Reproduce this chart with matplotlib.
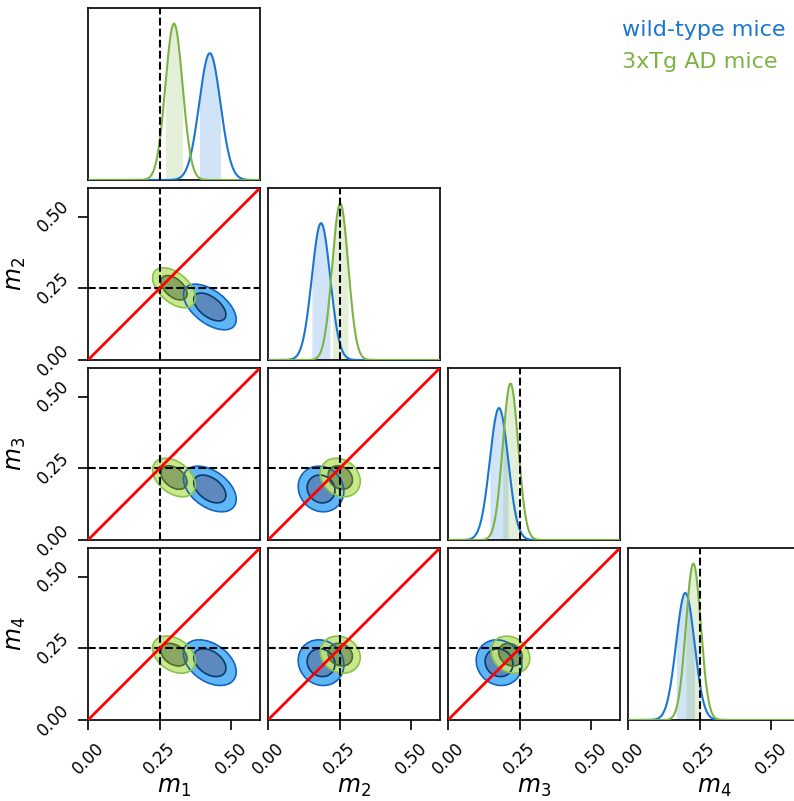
import numpy as np
import matplotlib
matplotlib.use("Agg")
import matplotlib.pyplot as plt
from math import erf, sqrt, log

# ---- data ----
params = ["m_1", "m_2", "m_3", "m_4"]
chain_names = ["wild-type mice", "3xTg AD mice"]
wt_mean = [0.425, 0.185, 0.178, 0.200]
wt_std = [0.037, 0.032, 0.032, 0.032]
ad_mean = [0.300, 0.252, 0.218, 0.228]
ad_std = [0.030, 0.028, 0.027, 0.026]
# pairwise correlations (i, j): value
wt_corr = {(0, 1): -0.55, (0, 2): -0.45, (0, 3): -0.40, (1, 2): -0.10, (1, 3): -0.10, (2, 3): -0.10}
ad_corr = {(0, 1): -0.50, (0, 2): -0.40, (0, 3): -0.35, (1, 2): -0.20, (1, 3): -0.15, (2, 3): -0.20}
truth = [0.25, 0.25, 0.25, 0.25]
tick_vals = [0.0, 0.25, 0.50]
tick_labels = ["0.00", "0.25", "0.50"]
lims = (0.0, 0.6)
sigma_levels = [1, 2]

smooth2d = 1.0

chains = [
    dict(mean=wt_mean, std=wt_std, corr=wt_corr, line="#1976D2", fill1d="#1976D2",
         outer="#4DAEF5", inner="#4A7DB8", edge_outer="#1565C0", edge_inner="#0D3B6E"),
    dict(mean=ad_mean, std=ad_std, corr=ad_corr, line="#7CB342", fill1d="#7CB342",
         outer="#C2E67F", inner="#7F9F52", edge_outer="#8BC34A", edge_inner="#4E6B2A"),
]

W, H = 794, 801
fig = plt.figure(figsize=(W / 100, H / 100), dpi=100)

col_x = [88, 268, 448, 628]
row_y = [8, 188, 368, 548]
size = 172

def add_ax(r, c):
    x0 = col_x[c] / W
    y0 = 1 - (row_y[r] + size) / H
    return fig.add_axes([x0, y0, size / W, size / H])

# 2D levels: enclosed probability equal to 1D n-sigma
radii = [sqrt(-2 * log(1 - erf(s / sqrt(2)))) for s in sigma_levels]

xg = np.linspace(lims[0], lims[1], 600)
n = len(params)
for r in range(n):
    for c in range(r + 1):
        ax = add_ax(r, c)
        for sp in ax.spines.values():
            sp.set_linewidth(1.2)
        ax.set_xlim(*lims)
        ax.tick_params(direction="out", length=7, width=1.2, labelsize=12, pad=4)
        ax.tick_params(axis="x", pad=7)
        if r == c:
            ymax = 0
            for ch in chains:
                mu, sd = ch["mean"][c], ch["std"][c]
                pdf = np.exp(-0.5 * ((xg - mu) / sd) ** 2) / (sd * np.sqrt(2 * np.pi))
                ymax = max(ymax, pdf.max())
                ax.plot(xg, pdf, color=ch["line"], lw=1.5, zorder=3)
                m = (xg >= mu - sd) & (xg <= mu + sd)
                ax.fill_between(xg[m], 0, pdf[m], color=ch["fill1d"], alpha=0.2, lw=0, zorder=2)
            ax.set_ylim(0, ymax * 1.1)
            ax.axvline(truth[c], color="black", ls="--", lw=1.5, zorder=4)
            ax.set_yticks([])
        else:
            X, Y = np.meshgrid(xg, xg)
            for ch in chains:
                mx, my = ch["mean"][c], ch["mean"][r]
                sx, sy = ch["std"][c] * smooth2d, ch["std"][r] * smooth2d
                rho = ch["corr"][(c, r)]
                dx = (X - mx) / sx
                dy = (Y - my) / sy
                q = (dx ** 2 - 2 * rho * dx * dy + dy ** 2) / (1 - rho ** 2)
                z = np.exp(-0.5 * q)
                lv = [np.exp(-0.5 * radii[1] ** 2), np.exp(-0.5 * radii[0] ** 2), 1.01]
                ax.contourf(X, Y, z, levels=lv, colors=[ch["outer"], ch["inner"]], alpha=0.9, zorder=2)
                ax.contour(X, Y, z, levels=lv[:2], colors=[ch["edge_outer"], ch["edge_inner"]],
                           linewidths=1.2, zorder=3)
            ax.set_ylim(*lims)
            ax.plot(lims, lims, color="#FF0000", lw=2, zorder=5)
            ax.axvline(truth[c], color="black", ls="--", lw=1.5, zorder=4)
            ax.axhline(truth[r], color="black", ls="--", lw=1.5, zorder=4)
            if c == 0:
                ax.set_yticks(tick_vals)
                ax.set_yticklabels(tick_labels, rotation=45, va="center", fontsize=12)
                ax.set_ylabel("$%s$" % params[r], fontsize=17, labelpad=4)
            else:
                ax.set_yticks([])
        if r == n - 1:
            ax.set_xticks(tick_vals)
            ax.set_xticklabels(tick_labels, rotation=45, fontsize=12)
            ax.set_xlabel("$%s$" % params[c], fontsize=17, labelpad=-2)
        else:
            ax.set_xticks([])

for i, ch in enumerate(chains):
    fig.text(622 / W, 1 - (30 + 32 * i) / H, chain_names[i], color=ch["line"],
             fontsize=16, ha="left", va="center")

fig.savefig("out.png", dpi=100)
